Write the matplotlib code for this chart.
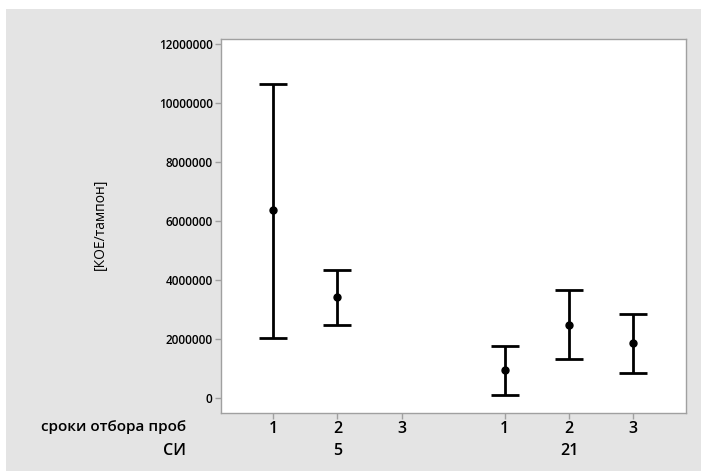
import matplotlib.pyplot as plt
from matplotlib.patches import Rectangle

plt.rcParams["font.family"] = ["Open Sans", "DejaVu Sans"]
plt.rcParams["font.weight"] = "semibold"

# ── данные ──────────────────────────────────────────────────
si_groups = ["5", "21"]
sample_terms = ["1", "2", "3", "1", "2", "3"]
positions = [1, 2, 3, 4.6, 5.6, 6.6]

# среднее и границы интервала (None — нет данных)
means = [6370000, 3410000, None, 950000, 2480000, 1850000]
lowers = [2040000, 2470000, None, 110000, 1310000, 850000]
uppers = [10640000, 4330000, None, 1750000, 3670000, 2860000]

y_ticks = [0, 2000000, 4000000, 6000000, 8000000, 10000000, 12000000]

# ── рисунок ─────────────────────────────────────────────────
fig = plt.figure(figsize=(7.01, 4.71), dpi=100)
fig.patch.set_facecolor("white")
fig.patches.append(Rectangle((6 / 701, 0), 1, 1 - 9 / 471, transform=fig.transFigure,
                             facecolor="#e4e4e4", edgecolor="none", zorder=-10))

ax = fig.add_axes([221 / 701, 58 / 471, 465 / 701, 374.5 / 471])
ax.set_facecolor("white")

for x, m, lo, hi in zip(positions, means, lowers, uppers):
    if m is None:
        continue
    ax.errorbar([x], [m], yerr=[[m - lo], [hi - m]], fmt="o", color="black",
                ecolor="black", elinewidth=2, capsize=10.2, capthick=2,
                markersize=5)

ax.set_xlim(0.19, 7.42)
ax.set_ylim(-510000, 12190000)
ax.set_xticks(positions)
ax.set_xticklabels(sample_terms, fontsize=11.5)
ax.set_yticks(y_ticks)
ax.set_yticklabels([str(v) for v in y_ticks], fontsize=8.5)
ax.tick_params(axis="both", color="#a0a0a0", length=4, width=1)
ax.tick_params(axis="x", pad=2)
ax.tick_params(axis="y", pad=2)
for sp in ax.spines.values():
    sp.set_color("#a0a0a0")
    sp.set_linewidth(1)

ax.set_ylabel("[КОЕ/тампон]", fontsize=10)
ax.yaxis.set_label_coords(-0.243, 0.505)

# подписи групп СИ
for label, x in zip(si_groups, [2, 5.6]):
    ax.text(x, -0.1015, label, transform=ax.get_xaxis_transform(),
            ha="center", va="center", fontsize=11.5)

fig.text(186 / 701, 1 - 427 / 471, "сроки отбора проб", ha="right", va="center", fontsize=11)
fig.text(186 / 701, 1 - 451 / 471, "СИ", ha="right", va="center", fontsize=11.5)

fig.savefig("out.png", dpi=100)
